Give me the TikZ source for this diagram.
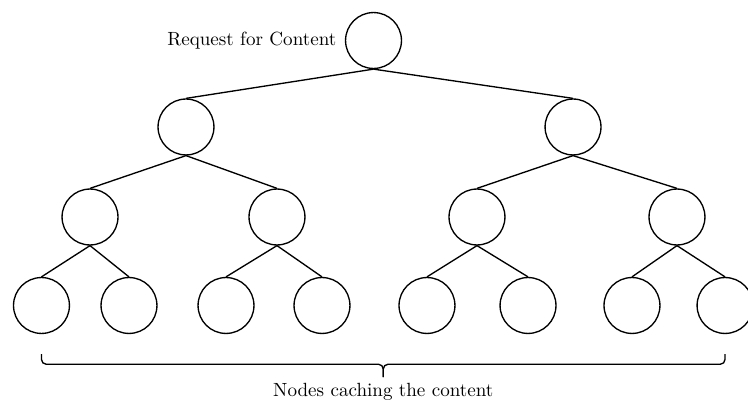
\documentclass[tikz,border=0pt]{standalone}
\usetikzlibrary{positioning,calc}
\tikzset{
  {cache node/.style} ={circle,draw,line width=0.7pt,minimum size=1.03cm,inner sep=0},
  {link/.style} ={draw,line width=0.7pt},
  {cache brace/.style} ={draw,line width=0.7pt,rounded corners=2.5pt},
 }
\begin{document}
\begin{tikzpicture}
    \useasboundingbox (0,0) rectangle (13.778,-7.386);
    % tree of cache nodes
    \node[cache node] (root) at (6.880,-0.746) {};
    \node[left=1pt of root] (request) {Request for Content};
    \node[cache node] (a) at (3.426,-2.339) {};
    \node[cache node] (b) at (10.555,-2.339) {};
    \node[cache node] (aa) at (1.658,-3.997) {};
    \node[cache node] (ab) at (5.102,-3.997) {};
    \node[cache node] (ba) at (8.786,-3.997) {};
    \node[cache node] (bb) at (12.470,-3.997) {};
    \node[cache node] (aaa) at (0.764,-5.627) {};
    \node[cache node] (aab) at (2.376,-5.627) {};
    \node[cache node] (aba) at (4.163,-5.627) {};
    \node[cache node] (abb) at (5.931,-5.627) {};
    \node[cache node] (baa) at (7.865,-5.627) {};
    \node[cache node] (bab) at (9.726,-5.627) {};
    \node[cache node] (bba) at (11.641,-5.627) {};
    \node[cache node] (bbb) at (13.355,-5.627) {};
    \foreach \p/\c in {root/a,root/b,a/aa,a/ab,b/ba,b/bb,
                       aa/aaa,aa/aab,ab/aba,ab/abb,ba/baa,ba/bab,bb/bba,bb/bbb}
      \draw[link] (\p.south) -- (\c.north);
    % brace under the leaves
    \coordinate[below=0.37cm of aaa] (braceL);
    \coordinate[below=0.37cm of bbb] (braceR);
    \coordinate (braceM) at ($(braceL)!.5!(braceR)$);
    \coordinate (braceTip) at ([yshift=-0.42cm]braceM);
    \draw[cache brace] (braceL) -- ++(0,-0.185) -- ([yshift=-0.185cm]braceM) -- (braceTip);
    \draw[cache brace] (braceR) -- ++(0,-0.185) -- ([yshift=-0.185cm]braceM) -- (braceTip);
    \node[below=0pt of braceTip] (caching) {Nodes caching the content};
\end{tikzpicture}
\end{document}
